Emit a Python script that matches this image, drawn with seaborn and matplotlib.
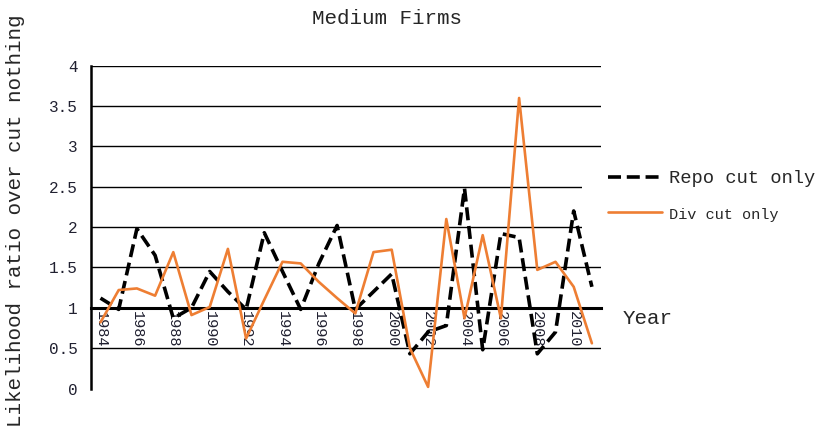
import numpy as np
import pandas as pd
import matplotlib
matplotlib.use("Agg")
import matplotlib.pyplot as plt
from matplotlib.patches import Rectangle
import seaborn as sns

# Series: likelihood ratio relative to "cut nothing", medium firms
years = list(range(1984, 2012))
repo_cut_only = [1.12, 0.98, 1.98, 1.65, 0.87, 1.00, 1.45, 1.20, 0.98, 1.93,
                 1.45, 0.98, 1.55, 2.02, 0.98, 1.20, 1.42, 0.43, 0.70, 0.78,
                 2.48, 0.48, 1.92, 1.87, 0.43, 0.70, 2.20, 1.26]
div_cut_only = [0.82, 1.22, 1.24, 1.15, 1.69, 0.91, 1.01, 1.73, 0.62, 1.10,
                1.57, 1.55, 1.32, 1.12, 0.93, 1.69, 1.72, 0.50, 0.02, 2.10,
                0.87, 1.90, 0.87, 3.60, 1.47, 1.57, 1.26, 0.56]
series_names = ["Repo cut only", "Div cut only"]
y_ticks = [0, 0.5, 1, 1.5, 2, 2.5, 3, 3.5, 4]
x_label_years = years[::2]

df = pd.DataFrame({"Year": years,
                   series_names[0]: repo_cut_only,
                   series_names[1]: div_cut_only})

sns.set_style("white")
FONT = ["Liberation Mono", "DejaVu Sans Mono"]
plt.rcParams["font.family"] = FONT

W, H = 816, 436
fig = plt.figure(figsize=(W / 100, H / 100), dpi=100)
ax = fig.add_axes([91.4 / W, 1 - 388.5 / H, (601 - 91.4) / W, (388.5 - 65.7) / H])

x0, x1 = years[0] - 0.5, years[-1] + 0.5

# horizontal grid (the baseline at 1 is the category axis itself)
ax.hlines([v for v in y_ticks if v not in (0, 1)], x0, x1,
          color="black", lw=1.0, zorder=1)

sns.lineplot(data=df, x="Year", y=series_names[0], ax=ax, color="black",
             lw=2.6, label=series_names[0], zorder=3)
ax.lines[-1].set_dashes((3.6, 1.6))
sns.lineplot(data=df, x="Year", y=series_names[1], ax=ax, color="#EE7E33",
             lw=1.9, label=series_names[1], zorder=4)
ax.get_legend().remove()

ax.set_xlim(x0, x1)
ax.set_ylim(0, 4)
ax.set_xlabel("")
ax.set_ylabel("")

for s in ("top", "right"):
    ax.spines[s].set_visible(False)
ax.spines["left"].set_linewidth(1.8)
ax.spines["left"].set_color("black")
ax.spines["bottom"].set_position(("data", 1))
ax.spines["bottom"].set_linewidth(2.2)
ax.spines["bottom"].set_color("black")
ax.spines["bottom"].set_zorder(2)

ax.set_yticks(y_ticks)
ax.set_yticklabels([f"{v:g}" for v in y_ticks])
ax.tick_params(axis="y", direction="in", length=5, width=1.5, pad=10,
               labelsize=11.5, labelcolor="#202030", color="black")

ax.set_xticks(x_label_years)
ax.set_xticklabels([str(y) for y in x_label_years], rotation=270)
ax.set_xticks(np.arange(x0, x1 + 0.01, 1.0), minor=True)
ax.tick_params(axis="x", which="major", length=0, pad=2, labelsize=11,
               labelcolor="#202030")
ax.tick_params(axis="x", which="minor", direction="in", length=4,
               width=1.5, color="black")

fig.text(387 / W, 1 - 18 / H, "Medium Firms", ha="center", va="center",
         fontsize=15)
fig.text(16 / W, 1 - 221 / H, "Likelihood ratio over cut nothing",
         rotation=90, ha="center", va="center", fontsize=15)
fig.text(623 / W, 1 - 318 / H, "Year", ha="left", va="center", fontsize=15)

# white legend panel laid over the right end of the grid
fig.add_artist(Rectangle((582 / W, 1 - 242 / H), (W - 582) / W, 74 / H,
                         transform=fig.transFigure, facecolor="white",
                         edgecolor="none", zorder=2))

handles = ax.get_lines()
line_handles = [h for h in handles if h.get_label() in series_names]
leg = fig.legend(line_handles, series_names, loc="upper left",
                 bbox_to_anchor=(608 / W, 1 - 170 / H),
                 bbox_transform=fig.transFigure, frameon=False,
                 fontsize=13.5, handlelength=2.9, handletextpad=0.35,
                 labelspacing=1.0, borderpad=0, borderaxespad=0)
leg.get_texts()[1].set_fontsize(11)
leg.set_zorder(5)

fig.savefig("out.png", dpi=100)
